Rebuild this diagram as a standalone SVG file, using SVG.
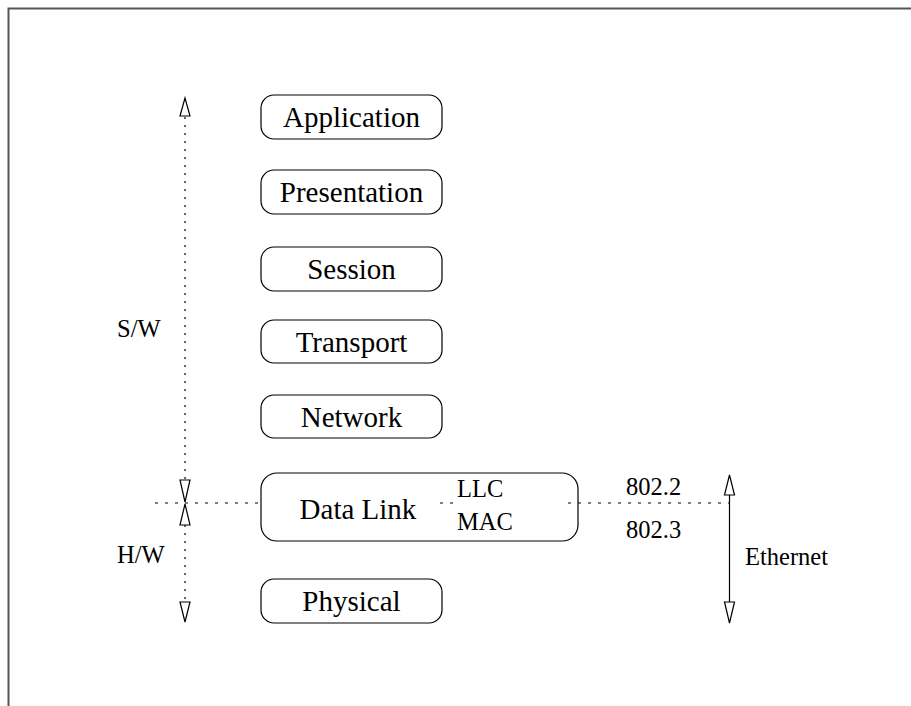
<svg xmlns="http://www.w3.org/2000/svg" width="911" height="706" viewBox="0 0 911 706">
<style>
.box{fill:#fff;stroke:#000;stroke-width:1.2}
.big{font-family:"Liberation Serif","Times New Roman",serif;font-size:29px;fill:#000;text-anchor:middle}
.sm{font-family:"Liberation Serif","Times New Roman",serif;font-size:24.5px;fill:#000}
.dot{stroke:#000;stroke-width:1.2;stroke-dasharray:2 6;fill:none}
.hdot{stroke:#000;stroke-width:1.2;stroke-dasharray:3 7;fill:none}
.solid{stroke:#000;stroke-width:1.2;fill:none}
.tri{fill:#fff;stroke:#000;stroke-width:1.2}
</style>
<rect width="911" height="706" fill="#fff"/>
<path d="M8.5 706 V8.5 H911" fill="none" stroke="#555" stroke-width="2"/>
<g id="application"><rect class="box" x="261" y="95" width="181" height="44" rx="13"/><text class="big" x="351.5" y="127">Application</text></g>
<g id="presentation"><rect class="box" x="261" y="170" width="181" height="44" rx="13"/><text class="big" x="351.5" y="202">Presentation</text></g>
<g id="session"><rect class="box" x="261" y="247" width="181" height="44" rx="13"/><text class="big" x="351.5" y="279">Session</text></g>
<g id="transport"><rect class="box" x="261" y="320" width="181" height="43" rx="13"/><text class="big" x="351.5" y="352">Transport</text></g>
<g id="network"><rect class="box" x="261" y="395" width="181" height="43" rx="13"/><text class="big" x="351.5" y="427">Network</text></g>
<g id="datalink"><rect class="box" x="261" y="473" width="317" height="68" rx="16"/><text class="big" x="358" y="519">Data Link</text><text class="sm" x="457" y="497">LLC</text><text class="sm" x="457" y="530">MAC</text></g>
<g id="physical"><rect class="box" x="261" y="579" width="181" height="44" rx="13"/><text class="big" x="351.5" y="611">Physical</text></g>
<g id="labels">
<text class="sm" x="117" y="337">S/W</text>
<text class="sm" x="117" y="563">H/W</text>
<text class="sm" x="626" y="495">802.2</text>
<text class="sm" x="626" y="538">802.3</text>
<text class="sm" x="745" y="565">Ethernet</text>
</g>
<g id="connectors">
<line class="dot" x1="185" y1="117" x2="185" y2="480"/>
<line class="dot" x1="185" y1="525" x2="185" y2="602"/>
<line class="hdot" x1="155" y1="503" x2="261" y2="503"/>
<line class="hdot" x1="440" y1="503" x2="456" y2="503"/>
<line class="hdot" x1="568" y1="503" x2="729" y2="503"/>
<line class="solid" x1="729.5" y1="494" x2="729.5" y2="603"/>
<polygon class="tri" points="185,98 180,116 190,116"/>
<polygon class="tri" points="180,480 190,480 185,502"/>
<polygon class="tri" points="185,504 180,525 190,525"/>
<polygon class="tri" points="180,602 190,602 185,622"/>
<polygon class="tri" points="729.5,475 724.5,495 734.5,495"/>
<polygon class="tri" points="724.5,602 734.5,602 729.5,623"/>
</g>
</svg>
